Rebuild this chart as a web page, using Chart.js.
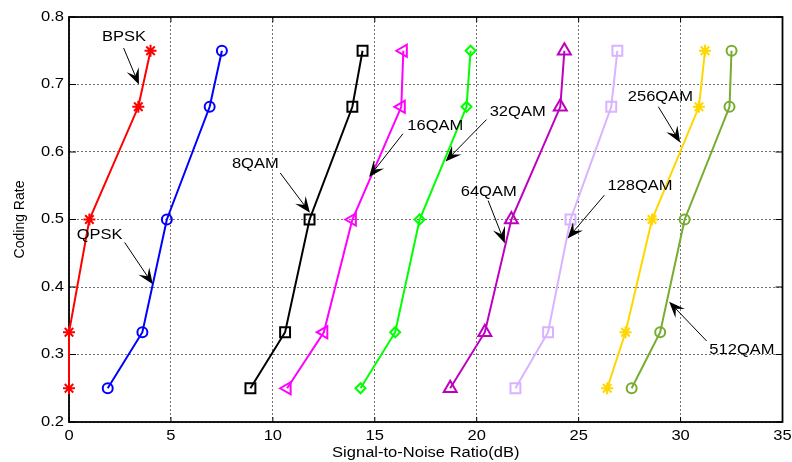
<!DOCTYPE html>
<html>
<head>
<meta charset="utf-8">
<script src="https://cdn.jsdelivr.net/npm/chart.js@4.4.1/dist/chart.umd.min.js"></script>
<style>
  html, body { margin: 0; padding: 0; background: #fff; }
  #wrap { width: 792px; height: 462px; }
</style>
</head>
<body>
<div id="wrap"><canvas id="snrChart" width="792" height="462"></canvas></div>
<script>
// coding rates shared by every curve
const codingRate = [0.25, 0.333, 0.5, 0.667, 0.75];

// SNR (dB), one value per coding rate
const snrBPSK   = [0.0, 0.0, 1.0, 3.4, 4.0];
const snrQPSK   = [1.9, 3.6, 4.8, 6.9, 7.5];
const snr8QAM   = [8.9, 10.6, 11.8, 13.9, 14.4];
const snr16QAM  = [10.7, 12.5, 13.9, 16.3, 16.4];
const snr32QAM  = [14.3, 16.0, 17.2, 19.5, 19.7];
const snr64QAM  = [18.7, 20.4, 21.7, 24.1, 24.3];
const snr128QAM = [21.9, 23.5, 24.6, 26.6, 26.9];
const snr256QAM = [26.4, 27.3, 28.6, 30.9, 31.2];
const snr512QAM = [27.6, 29.0, 30.2, 32.4, 32.5];

const xTickLabels = [0, 5, 10, 15, 20, 25, 30, 35];
const yTickLabels = ["0.2", "0.3", "0.4", "0.5", "0.6", "0.7", "0.8"];
const xTitle = "Signal-to-Noise Ratio(dB)";
const yTitle = "Coding Rate";

// text arrows: label centre, arrow tail, arrow tip (data units)
const notes = [
  { text: "BPSK",   at: [2.70, 0.770], from: [2.68, 0.754],  to: [3.43, 0.700] },
  { text: "QPSK",   at: [1.50, 0.477], from: [2.73, 0.466],  to: [4.11, 0.404] },
  { text: "8QAM",   at: [9.14, 0.582], from: [10.36, 0.569], to: [11.82, 0.510] },
  { text: "16QAM",  at: [17.97, 0.639], from: [16.38, 0.627], to: [14.72, 0.563] },
  { text: "32QAM",  at: [22.01, 0.659], from: [20.48, 0.648], to: [18.47, 0.586] },
  { text: "64QAM",  at: [20.59, 0.541], from: [20.56, 0.528], to: [21.38, 0.465] },
  { text: "128QAM", at: [28.01, 0.549], from: [26.26, 0.536], to: [24.46, 0.472] },
  { text: "256QAM", at: [29.01, 0.681], from: [28.91, 0.667], to: [29.98, 0.614] },
  { text: "512QAM", at: [33.01, 0.306], from: [31.28, 0.320], to: [29.44, 0.378] },
];

const FONT = '14px "Liberation Sans", Arial, sans-serif';
const STRETCH = 1.18; // the original text is a bit wide

function series(label, snr, color, pointStyle, radius, rotation) {
  return {
    label,
    data: snr.map((x, i) => ({ x, y: codingRate[i] })),
    borderColor: color,
    backgroundColor: "transparent",
    borderWidth: 2,
    showLine: true,
    tension: 0,
    pointStyle,
    pointRadius: radius,
    pointRotation: rotation || 0,
    pointBorderWidth: 2,
    pointBorderColor: color,
    pointBackgroundColor: "transparent",
    clip: false,
  };
}

function wideText(ctx, txt, x, y, align) {
  ctx.save();
  ctx.translate(x, y);
  ctx.scale(STRETCH, 1);
  ctx.textAlign = align || "center";
  ctx.textBaseline = "middle";
  ctx.fillText(txt, 0, 0);
  ctx.restore();
}

function arrow(ctx, x0, y0, x1, y1) {
  const dx = x1 - x0, dy = y1 - y0, len = Math.hypot(dx, dy);
  const ux = dx / len, uy = dy / len, nx = -uy, ny = ux;
  const L = 16, W = 6.5;
  ctx.beginPath();
  ctx.moveTo(x0, y0);
  ctx.lineTo(x1 - ux * L * 0.6, y1 - uy * L * 0.6);
  ctx.lineWidth = 1;
  ctx.stroke();
  ctx.beginPath();
  ctx.moveTo(x1, y1);
  ctx.lineTo(x1 - ux * L + nx * W, y1 - uy * L + ny * W);
  ctx.lineTo(x1 - ux * L * 0.6, y1 - uy * L * 0.6);
  ctx.lineTo(x1 - ux * L - nx * W, y1 - uy * L - ny * W);
  ctx.closePath();
  ctx.fill();
}

// frame with inward ticks, drawn under the curves
const framePlugin = {
  id: "frame",
  beforeDatasetsDraw(chart) {
    const { ctx, chartArea: a, scales } = chart;
    ctx.save();
    ctx.strokeStyle = "#000";
    ctx.lineWidth = 1;
    xTickLabels.forEach((v) => {
      const px = scales.x.getPixelForValue(v);
      ctx.beginPath();
      ctx.moveTo(px, a.bottom); ctx.lineTo(px, a.bottom - 5);
      ctx.moveTo(px, a.top); ctx.lineTo(px, a.top + 5);
      ctx.stroke();
    });
    yTickLabels.forEach((v) => {
      const py = scales.y.getPixelForValue(Number(v));
      ctx.beginPath();
      ctx.moveTo(a.left, py); ctx.lineTo(a.left + 7, py);
      ctx.moveTo(a.right, py); ctx.lineTo(a.right - 7, py);
      ctx.stroke();
    });
    ctx.lineWidth = 1.8;
    ctx.strokeRect(a.left, a.top, a.right - a.left, a.bottom - a.top);
    ctx.restore();
  },
};

// tick labels, axis titles and the arrows with names
const textPlugin = {
  id: "texts",
  afterDraw(chart) {
    const { ctx, chartArea: a, scales } = chart;
    const sx = scales.x, sy = scales.y;
    ctx.save();
    ctx.fillStyle = "#000";
    ctx.strokeStyle = "#000";
    ctx.font = FONT;
    xTickLabels.forEach((v) => wideText(ctx, String(v), sx.getPixelForValue(v), a.bottom + 14, "center"));
    yTickLabels.forEach((v) => wideText(ctx, v, a.left - 5, sy.getPixelForValue(Number(v)), "right"));
    wideText(ctx, xTitle, (a.left + a.right) / 2, a.bottom + 31, "center");

    ctx.save();
    ctx.translate(20, (a.top + a.bottom) / 2);
    ctx.rotate(-Math.PI / 2);
    ctx.textAlign = "center";
    ctx.textBaseline = "middle";
    ctx.fillText(yTitle, 0, 0);
    ctx.restore();

    notes.forEach((n) => {
      arrow(ctx,
        sx.getPixelForValue(n.from[0]), sy.getPixelForValue(n.from[1]),
        sx.getPixelForValue(n.to[0]), sy.getPixelForValue(n.to[1]));
      wideText(ctx, n.text, sx.getPixelForValue(n.at[0]), sy.getPixelForValue(n.at[1]), "center");
    });
    ctx.restore();
  },
};

const datasets = [
  series("BPSK",   snrBPSK,   "#ff0000", "star", 6),
  series("QPSK",   snrQPSK,   "#0000ff", "circle", 5),
  series("8QAM",   snr8QAM,   "#000000", "rect", 7),
  series("16QAM",  snr16QAM,  "#ff00ff", "triangle", 7, -90),
  series("32QAM",  snr32QAM,  "#00ff00", "rectRot", 5),
  series("64QAM",  snr64QAM,  "#bf00bf", "triangle", 7.5),
  series("128QAM", snr128QAM, "#d9b3ff", "rect", 7),
  series("256QAM", snr256QAM, "#ffd700", "star", 6),
  series("512QAM", snr512QAM, "#77ac30", "circle", 5),
];

new Chart(document.getElementById("snrChart").getContext("2d"), {
  type: "scatter",
  data: { datasets },
  plugins: [framePlugin, textPlugin],
  options: {
    responsive: false,
    animation: false,
    devicePixelRatio: 1,
    layout: { padding: { left: 0, right: 8, top: 17, bottom: 0 } },
    plugins: { legend: { display: false }, tooltip: { enabled: false } },
    scales: {
      x: {
        type: "linear",
        min: 0,
        max: 35,
        ticks: { display: false, stepSize: 5 },
        grid: { color: "#707070", lineWidth: 1, drawTicks: false },
        border: { display: false, dash: [2, 2] },
        afterFit: (s) => { s.height = 40; },
      },
      y: {
        type: "linear",
        min: 0.2,
        max: 0.8,
        ticks: { display: false, stepSize: 0.1 },
        grid: { color: "#707070", lineWidth: 1, drawTicks: false },
        border: { display: false, dash: [2, 2] },
        afterFit: (s) => { s.width = 69; },
      },
    },
  },
});
</script>
</body>
</html>
